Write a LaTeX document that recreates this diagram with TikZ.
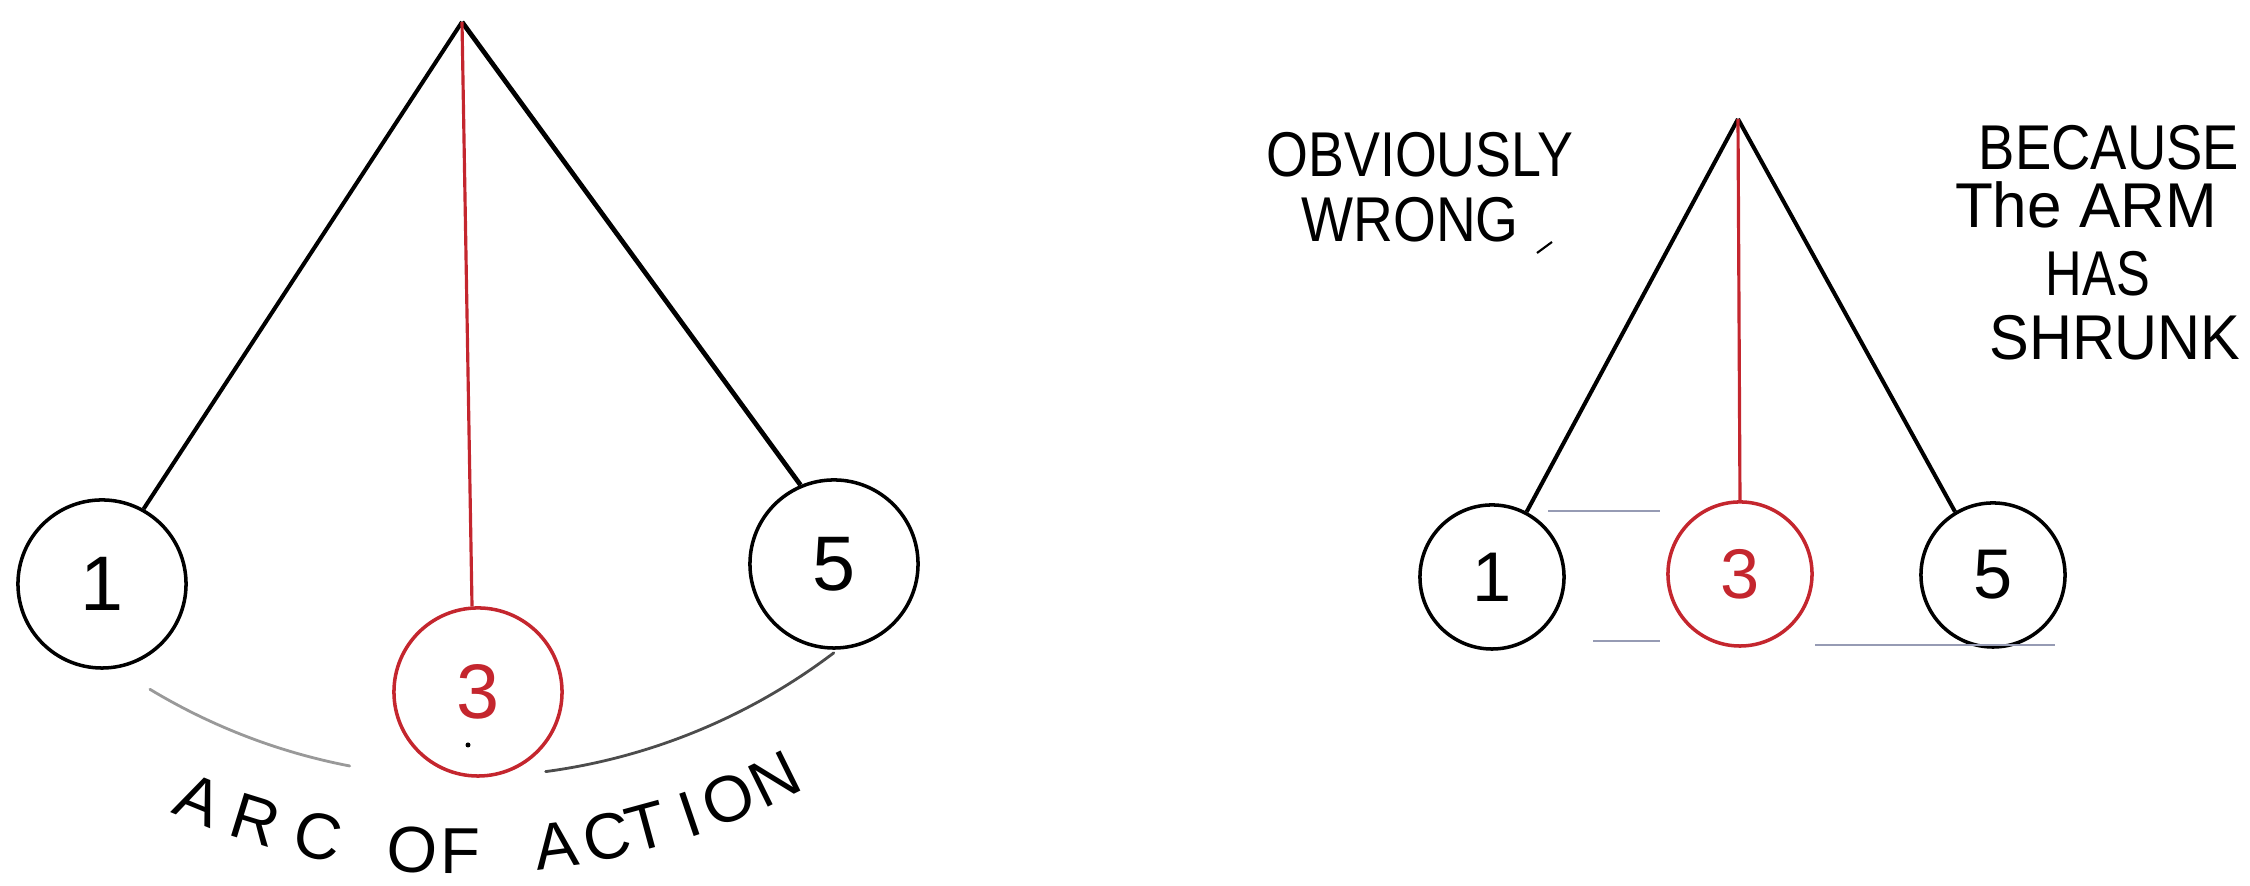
\documentclass[tikz,border=0pt]{standalone}
\usepackage{fontspec}
\setmainfont{Liberation Sans}
\usetikzlibrary{calc}
\definecolor{pred}{RGB}{196,38,46}
\definecolor{guide}{RGB}{150,155,180}
\begin{document}
\begin{tikzpicture}[x=0.01cm,y=0.01cm,
  ball/.style={circle, draw=black, line width=1.0pt, minimum size=1.68cm, inner sep=0pt,
    font=\fontsize{22}{24}\selectfont},
  sball/.style={ball, minimum size=1.44cm, font=\fontsize{20}{22}\selectfont},
  redball/.style={draw=pred, text=pred},
  arm/.style={draw=black, line width=1.15pt},
  redarm/.style={draw=pred, line width=0.9pt},
  arcline/.style={line width=0.8pt, line cap=round},
  arcletter/.style={anchor=base, inner sep=0pt, font=\fontsize{18.5}{20}\selectfont},
  hand/.style={inner sep=0pt, font=\fontsize{18}{20}\selectfont},
  guideline/.style={draw=guide, line width=0.35pt}
]
\useasboundingbox (0,0) rectangle (2250,886);

% ---------- left pendulum ----------
\coordinate (p1) at (462,864);
\node[ball] (c1) at (102,302) {1};
\node[ball, redball] (c3) at (478,194) {3};
\node[ball] (c5) at (834,322) {5};
\draw[arm] (p1) -- (c1.61);
\draw[arm, line width=1.35pt] (p1) -- (c5.113);
\draw[redarm] (p1) -- (c3.94);
\fill (468,141) circle (2.5);

% arc of action
\coordinate (ac) at (465,719);
\draw[arcline, black!40] ($(ac)+(238.9:610)$) arc[start angle=238.9, end angle=259.1, radius=610];
\draw[arcline, black!70] ($(ac)+(277.6:610)$) arc[start angle=277.6, end angle=307.2, radius=610];

% curved label
\coordinate (tc) at (463,737);
\foreach \a/\l [count=\i] in {247.9/A, 252.8/R, 258.1/C, 265.9/O, 269.8/F,
    277.6/A, 281.8/C, 285.2/T, 288.8/I, 292.2/O, 296.3/N}
  \node[arcletter, rotate=\a+90] (al\i) at ($(tc)+(\a:725)$) {\l};

% ---------- right pendulum ----------
\coordinate (p2) at (1738,767);
\node[sball] (d1) at (1492,309) {1};
\node[sball, redball] (d3) at (1740,312) {3};
\node[sball] (d5) at (1993,311) {5};
\draw[arm] (p2) -- (d1.62);
\draw[arm] (p2) -- (d5.121);
\draw[redarm] (p2) -- (d3.north);

% faint guide lines
\coordinate (g1a) at (1548,375); \coordinate (g1b) at (1660,375);
\coordinate (g2a) at (1593,245); \coordinate (g2b) at (1660,245);
\coordinate (g3a) at (1815,241); \coordinate (g3b) at (2055,241);
\draw[guideline] (g1a) -- (g1b);
\draw[guideline] (g2a) -- (g2b);
\draw[guideline] (g3a) -- (g3b);

% notes
\node[hand] (t1) at (1420,731) {\scalebox{0.85}[1]{OBVIOUSLY}};
\node[hand] (t2) at (1410,666) {\scalebox{0.87}[1]{WRONG}};
\draw[line width=0.6pt] (1537,633) -- (1552,644);
\node[hand] (t3) at (2109,738) {\scalebox{0.86}[1]{BECAUSE}};
\node[hand] (t4) at (2086,681) {\scalebox{0.98}[1]{The ARM}};
\node[hand] (t5) at (2098,612) {\scalebox{0.8}[1]{HAS}};
\node[hand] (t6) at (2115,548) {\scalebox{0.94}[1]{SHRUNK}};
\end{tikzpicture}
\end{document}
